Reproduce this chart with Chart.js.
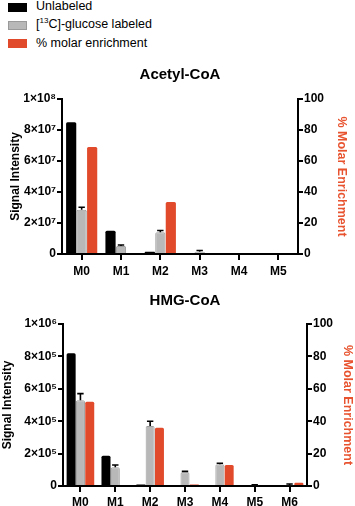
<!DOCTYPE html>
<html><head><meta charset="utf-8">
<script src="https://cdn.jsdelivr.net/npm/chart.js@4.4.1/dist/chart.umd.min.js"></script>
<style>
html,body{margin:0;padding:0;background:#fff;width:355px;height:506px;overflow:hidden;font-family:"Liberation Sans",Arial,sans-serif;}
.item{position:absolute;left:36px;font-size:12.5px;color:#000;white-space:nowrap;line-height:14px}
.item sup{font-size:8px;line-height:0;vertical-align:5px}
.box{position:absolute;left:8px;width:19px;height:9px}
canvas{position:absolute;left:0}
</style></head>
<body>
<div class="box" style="top:3px;background:#000"></div><div class="item" style="top:-1.5px">Unlabeled</div>
<div class="box" style="top:21px;background:#b8b8b8;box-sizing:border-box;border:1px solid #9a9a9a"></div><div class="item" style="top:17px">[<sup>13</sup>C]-glucose labeled</div>
<div class="box" style="top:38.5px;background:#e14b2c"></div><div class="item" style="top:35.5px">% molar enrichment</div>
<canvas id="c1" width="355" height="230" style="top:60px"></canvas>
<canvas id="c2" width="355" height="216" style="top:290px"></canvas>
<script>
// ---- Data: Acetyl-CoA ----
const CATS_ACETYL = ['M0','M1','M2','M3','M4','M5'];
const UNLABELED_ACETYL = [8.5e7, 1.5e7, 1.5e6, 0, 0, 0];
const GLUCOSE_ACETYL = [2.85e7, 5.2e6, 1.4e7, 1.5e6, 0, 0];
const GLUCOSE_ERR_ACETYL = [1.7e6, 6e5, 1.2e6, 8e5, 0, 0];
const ENRICH_ACETYL = [69, 0, 33.5, 0, 0, 0];
const YTICKS_ACETYL = ['0','2×10⁷','4×10⁷','6×10⁷','8×10⁷','1×10⁸'];

// ---- Data: HMG-CoA ----
const CATS_HMG = ['M0','M1','M2','M3','M4','M5','M6'];
const UNLABELED_HMG = [8.2e5, 1.87e5, 1e4, 0, 0, 0, 0];
const GLUCOSE_HMG = [5.3e5, 1.15e5, 3.7e5, 8.5e4, 1.35e5, 4e3, 4e3];
const GLUCOSE_ERR_HMG = [4e4, 1.5e4, 3e4, 5e3, 5e3, 4e3, 8e3];
const ENRICH_HMG = [52, 0, 36, 1, 13, 0, 2];
const YTICKS_HMG = ['0','2×10⁵','4×10⁵','6×10⁵','8×10⁵','1×10⁶'];

const RIGHT_TICKS = ['0','20','40','60','80','100'];

Chart.defaults.font.family = "'Liberation Sans', Arial, sans-serif";
Chart.defaults.color = '#000';

const ORANGE = '#e14b2c';

const errorBars = {
  id: 'errorBars',
  afterDatasetsDraw(chart) {
    const ctx = chart.ctx;
    chart.data.datasets.forEach((ds, i) => {
      if (!ds.errors) return;
      const meta = chart.getDatasetMeta(i);
      const yScale = chart.scales[meta.yAxisID];
      meta.data.forEach((bar, j) => {
        const e = ds.errors[j];
        if (!e) return;
        const v = ds.data[j];
        const yTop = yScale.getPixelForValue(v + e);
        const yv = yScale.getPixelForValue(v);
        ctx.save();
        ctx.strokeStyle = '#000';
        ctx.lineWidth = 1.6;
        ctx.beginPath();
        ctx.moveTo(bar.x, yv); ctx.lineTo(bar.x, yTop);
        ctx.moveTo(bar.x - 3.2, yTop); ctx.lineTo(bar.x + 3.2, yTop);
        ctx.stroke();
        ctx.restore();
      });
    });
  }
};

function build(id, o) {
  const axisCommon = {
    border: { display: true, color: '#000', width: 2 },
    grid: { drawOnChartArea: false, color: '#000', lineWidth: 2, tickLength: 5 }
  };
  return new Chart(document.getElementById(id), {
    type: 'bar',
    data: {
      labels: o.cats,
      datasets: [
        { label: 'Unlabeled', data: o.unl, backgroundColor: '#000', borderColor: '#000',
          borderWidth: 0, borderRadius: 1.5, yAxisID: 'y' },
        { label: '[13C]-glucose labeled', data: o.glu, errors: o.err, backgroundColor: '#b8b8b8',
          borderColor: '#9a9a9a', borderWidth: c => (c.raw > 0 ? 1 : 0), borderRadius: 1.5, yAxisID: 'y' },
        { label: '% molar enrichment', data: o.enr, backgroundColor: ORANGE, borderColor: ORANGE,
          borderWidth: 0, borderRadius: 1.5, yAxisID: 'y1' }
      ]
    },
    options: {
      responsive: false,
      animation: false,
      devicePixelRatio: 1,
      layout: { padding: 0 },
      datasets: { bar: { categoryPercentage: 0.8, barPercentage: 0.97 } },
      plugins: {
        legend: { display: false },
        tooltip: { enabled: false },
        title: { display: true, text: o.title, fullSize: false, color: '#000',
          font: { size: 15, weight: 'bold' }, padding: { top: o.titleTop, bottom: o.titleBottom } }
      },
      scales: {
        x: {
          ...axisCommon,
          grid: { ...axisCommon.grid, offset: false, tickLength: 6 },
          ticks: { font: { size: 12, weight: 'bold' }, padding: o.xPad, maxRotation: 0 },
          afterFit: s => { s.height = o.xH; }
        },
        y: {
          ...axisCommon,
          position: 'left', min: 0, max: o.ymax, 
          ticks: { stepSize: o.ymax / 5, font: { size: 12, weight: 'bold' }, padding: 1,
            callback: (v, i) => o.yticks[i] },
          title: { display: true, text: 'Signal Intensity', color: '#000',
            font: { size: 12, weight: 'bold' }, padding: { top: o.lTitlePad, bottom: 0 } },
          afterFit: s => { s.width = o.lW; }
        },
        y1: {
          ...axisCommon,
          position: 'right', min: 0, max: 100,
          ticks: { stepSize: 20, font: { size: 12, weight: 'bold' }, padding: 1,
            callback: (v, i) => RIGHT_TICKS[i] },
          title: { display: true, text: '% Molar Enrichment', color: '#e8532f',
            font: { size: 12.5, weight: 'bold' }, padding: { top: o.rTitlePad, bottom: 0 } },
          afterFit: s => { s.width = o.rW; }
        }
      }
    },
    plugins: [errorBars]
  });
}

build('c1', { cats: CATS_ACETYL, unl: UNLABELED_ACETYL, glu: GLUCOSE_ACETYL, err: GLUCOSE_ERR_ACETYL,
  enr: ENRICH_ACETYL, yticks: YTICKS_ACETYL, ymax: 1e8, title: 'Acetyl-CoA',
  titleTop: 6, titleBottom: 15, xH: 36, xPad: 4, lW: 62, rW: 57, lTitlePad: 8, rTitlePad: 6 });
build('c2', { cats: CATS_HMG, unl: UNLABELED_HMG, glu: GLUCOSE_HMG, err: GLUCOSE_ERR_HMG,
  enr: ENRICH_HMG, yticks: YTICKS_HMG, ymax: 1e6, title: 'HMG-CoA',
  titleTop: 2, titleBottom: 14, xH: 20, xPad: 3, lW: 63, rW: 48, lTitlePad: 0, rTitlePad: 0 });
</script>
</body></html>
